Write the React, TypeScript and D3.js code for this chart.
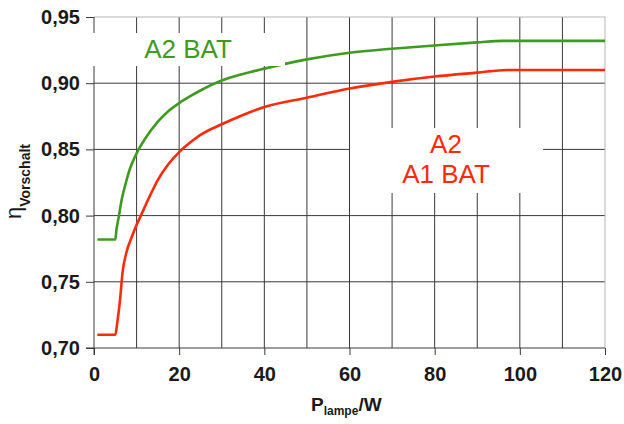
import { useEffect, useRef } from "react";
import * as d3 from "d3";

// P_lampe in W
const greenX = [0.8, 5, 5.3, 5.7, 6.5, 7.5, 8.4, 10, 12, 15, 17.5, 20, 22.5, 25, 30, 35, 40, 50, 60, 70, 80, 90, 96, 120];
const greenY = [0.782, 0.782, 0.79, 0.797, 0.812, 0.825, 0.835, 0.847, 0.858, 0.871, 0.879, 0.885, 0.89, 0.8945, 0.902, 0.907, 0.911, 0.918, 0.923, 0.926, 0.9285, 0.9308, 0.932, 0.932];

const redX = [0.8, 5, 5.5, 6.1, 6.7, 7.6, 9, 10, 11, 13, 15, 17.5, 20, 22.5, 25, 30, 35, 40, 50, 60, 70, 80, 90, 97, 120];
const redY = [0.71, 0.71, 0.72, 0.736, 0.757, 0.772, 0.785, 0.793, 0.8, 0.814, 0.827, 0.839, 0.848, 0.855, 0.861, 0.869, 0.876, 0.882, 0.889, 0.896, 0.901, 0.905, 0.908, 0.91, 0.91];

const xTicks = [0, 20, 40, 60, 80, 100, 120];
const xGrid = [10, 20, 30, 40, 50, 60, 70, 80, 90, 100, 110];
const yTicks = [0.7, 0.75, 0.8, 0.85, 0.9, 0.95];

const COLORS = {
  green: "#3f9b1f",
  red: "#ff2a0a",
  grid: "#3a3a3a",
  border: "#b5b5b5",
  text: "#1a1a1a",
};

const W = 624;
const H = 424;
const margin = { top: 17, right: 19, bottom: 76, left: 94 };
const FONT = "'Liberation Sans', Arial, sans-serif";

export default function App() {
  const svgRef = useRef<SVGSVGElement>(null);

  useEffect(() => {
    if (!svgRef.current) return;
    const svg = d3.select(svgRef.current);
    svg.selectAll("*").remove();

    const innerW = W - margin.left - margin.right;
    const innerH = H - margin.top - margin.bottom;

    const x = d3.scaleLinear().domain([0, 120]).range([0, innerW]);
    const y = d3.scaleLinear().domain([0.7, 0.95]).range([innerH, 0]);

    const g = svg.append("g").attr("transform", `translate(${margin.left},${margin.top})`);

    // grid
    g.selectAll("line.vgrid")
      .data(xGrid)
      .join("line")
      .attr("x1", (d) => x(d)).attr("x2", (d) => x(d))
      .attr("y1", 0).attr("y2", innerH)
      .attr("stroke", COLORS.grid).attr("stroke-width", 1);

    g.selectAll("line.hgrid")
      .data(yTicks.filter((d) => d > 0.7 && d < 0.95))
      .join("line")
      .attr("x1", 0).attr("x2", innerW)
      .attr("y1", (d) => y(d)).attr("y2", (d) => y(d))
      .attr("stroke", COLORS.grid).attr("stroke-width", 1);

    // top / right frame
    g.append("line").attr("x1", 0).attr("x2", innerW).attr("y1", 0).attr("y2", 0)
      .attr("stroke", COLORS.border);
    g.append("line").attr("x1", innerW).attr("x2", innerW).attr("y1", 0).attr("y2", innerH)
      .attr("stroke", COLORS.border);

    // lines
    const line = d3.line<[number, number]>()
      .x((d) => x(d[0]))
      .y((d) => y(d[1]))
      .curve(d3.curveMonotoneX);

    const series = [
      { xs: greenX, ys: greenY, color: COLORS.green },
      { xs: redX, ys: redY, color: COLORS.red },
    ];
    series.forEach((s) => {
      const pts = s.xs.map((v, i) => [v, s.ys[i]] as [number, number]);
      g.append("path")
        .datum(pts)
        .attr("d", line)
        .attr("fill", "none")
        .attr("stroke", s.color)
        .attr("stroke-width", 2.6)
        .attr("stroke-linejoin", "round");
    });

    // axes
    g.append("g")
      .attr("transform", `translate(0,${innerH})`)
      .call(d3.axisBottom(x).tickValues(xTicks).tickSize(7).tickPadding(12).tickFormat((d) => `${d}`))
      .call((a) => a.select(".domain").attr("d", `M-8,0H${innerW}`).attr("stroke", COLORS.grid))
      .call((a) => a.selectAll(".tick line").attr("stroke", COLORS.grid))
      .call((a) => a.selectAll("text")
        .attr("fill", COLORS.text)
        .attr("font-size", 20)
        .attr("font-weight", 700)
        .attr("font-family", FONT));

    g.append("g")
      .call(d3.axisLeft(y).tickValues(yTicks).tickSize(8).tickPadding(6)
        .tickFormat((d) => d3.format(".2f")(Number(d)).replace(".", ",")))
      .call((a) => a.select(".domain").attr("d", `M0,0V${innerH + 7}`).attr("stroke", COLORS.grid))
      .call((a) => a.selectAll(".tick line").attr("stroke", COLORS.grid))
      .call((a) => a.selectAll("text")
        .attr("fill", COLORS.text)
        .attr("font-size", 20)
        .attr("font-weight", 700)
        .attr("font-family", FONT));

    // white label boxes over the grid
    svg.append("rect").attr("x", 93).attr("y", 33).attr("width", 192).attr("height", 33).attr("fill", "#fff");
    svg.append("rect").attr("x", 350).attr("y", 128).attr("width", 193).attr("height", 65).attr("fill", "#fff");

    svg.append("text")
      .attr("x", 188).attr("y", 58)
      .attr("text-anchor", "middle")
      .attr("font-size", 26).attr("font-family", FONT)
      .attr("fill", COLORS.green)
      .text("A2 BAT");

    const red = svg.append("text")
      .attr("text-anchor", "middle")
      .attr("font-size", 26).attr("font-family", FONT)
      .attr("fill", COLORS.red);
    red.append("tspan").attr("x", 446).attr("y", 153).text("A2");
    red.append("tspan").attr("x", 446).attr("y", 183).text("A1 BAT");

    // axis titles
    const xt = svg.append("text")
      .attr("x", 311).attr("y", 411)
      .attr("font-family", FONT).attr("font-weight", 700)
      .attr("fill", COLORS.text);
    xt.append("tspan").attr("font-size", 19).text("P");
    xt.append("tspan").attr("font-size", 12).attr("dy", 4).text("lampe");
    xt.append("tspan").attr("font-size", 19).attr("dy", -4).text("/W");

    const yt = svg.append("text")
      .attr("transform", "translate(21,219) rotate(-90)")
      .attr("font-family", FONT)
      .attr("fill", COLORS.text);
    yt.append("tspan").attr("font-size", 22).text("η");
    yt.append("tspan").attr("font-size", 14).attr("font-weight", 700).attr("dy", 9).text("Vorschalt");
  }, []);

  return (
    <div style={{ position: "fixed", left: 0, top: 0, background: "#fff" }}>
      <svg ref={svgRef} width={W} height={H} style={{ display: "block" }} />
    </div>
  );
}
